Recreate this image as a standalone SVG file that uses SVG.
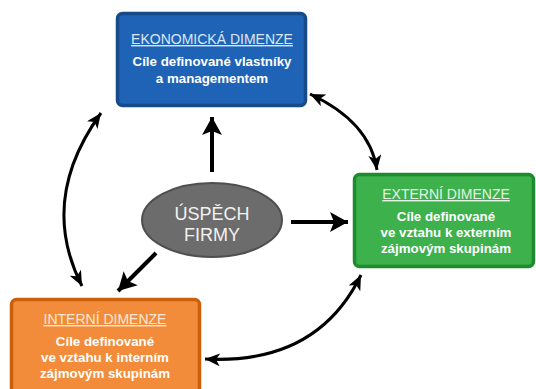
<svg xmlns="http://www.w3.org/2000/svg" width="536" height="389" viewBox="0 0 536 389">
<defs>
<style>
.t{font-family:"Liberation Sans",Arial,sans-serif;text-anchor:middle}
.ttl{font-size:14px;text-decoration:underline}
.body{font-size:13.3px;font-weight:bold;fill:#ffffff}
.big{font-size:18px;fill:#f2f2f2}
.conn{fill:none;stroke:#000}
</style>
<marker id="hs" viewBox="0 0 18 20" markerWidth="18" markerHeight="20" refX="18" refY="10" orient="auto-start-reverse" markerUnits="userSpaceOnUse">
<path d="M0,0 L18,10 L0,20 L4,10 z" fill="#000"/>
</marker>
<marker id="hc" viewBox="0 0 15 13" markerWidth="15" markerHeight="13" refX="15" refY="6.5" orient="auto-start-reverse" markerUnits="userSpaceOnUse">
<path d="M0,0 L15,6.5 L0,13 L4,6.5 z" fill="#000"/>
</marker>
</defs>
<rect width="536" height="389" fill="#ffffff"/>
<g id="connectors">
<path class="conn" stroke-width="4" d="M212,172 L212,117" marker-end="url(#hs)"/>
<path class="conn" stroke-width="4" d="M291,222 L348,222" marker-end="url(#hs)"/>
<path class="conn" stroke-width="4" d="M156,253 L118,291" marker-end="url(#hs)"/>
<path class="conn" stroke-width="3" d="M82,286 Q38,200 101,113" marker-start="url(#hc)" marker-end="url(#hc)"/>
<path class="conn" stroke-width="3" d="M310,94 Q370,122 377,170" marker-start="url(#hc)" marker-end="url(#hc)"/>
<path class="conn" stroke-width="3" d="M205,359 Q317,365 361,275" marker-start="url(#hc)" marker-end="url(#hc)"/>
</g>
<g id="ekonomicka">
<rect x="117.5" y="13.5" width="188" height="92" rx="5" fill="#1f63b6" stroke="#174a88" stroke-width="3.5"/>
<text class="t ttl" x="212" y="44" fill="#dbe7f6">EKONOMICKÁ DIMENZE</text>
<text class="t body" x="212" y="66">Cíle definované vlastníky</text>
<text class="t body" x="212" y="83">a managementem</text>
</g>
<g id="externi">
<rect x="354.5" y="174.5" width="179" height="92" rx="5" fill="#3db14b" stroke="#1f8b2f" stroke-width="3.5"/>
<text class="t ttl" x="446" y="199" fill="#e3f4e5">EXTERNÍ DIMENZE</text>
<text class="t body" x="446" y="221">Cíle definované</text>
<text class="t body" x="446" y="237">ve vztahu k externím</text>
<text class="t body" x="446" y="253">zájmovým skupinám</text>
</g>
<g id="interni">
<rect x="11.5" y="299.5" width="188" height="100" rx="5" fill="#f28c3a" stroke="#cc5f0c" stroke-width="3.5"/>
<text class="t ttl" x="105" y="324" fill="#fde8d6">INTERNÍ DIMENZE</text>
<text class="t body" x="105" y="346">Cíle definované</text>
<text class="t body" x="105" y="362">ve vztahu k interním</text>
<text class="t body" x="105" y="378">zájmovým skupinám</text>
</g>
<g id="uspech">
<ellipse cx="212" cy="220" rx="70" ry="37" fill="#6c6c6c" stroke="#4f4f4f" stroke-width="2"/>
<text class="t big" x="212" y="220">ÚSPĚCH</text>
<text class="t big" x="212" y="241">FIRMY</text>
</g>
</svg>
